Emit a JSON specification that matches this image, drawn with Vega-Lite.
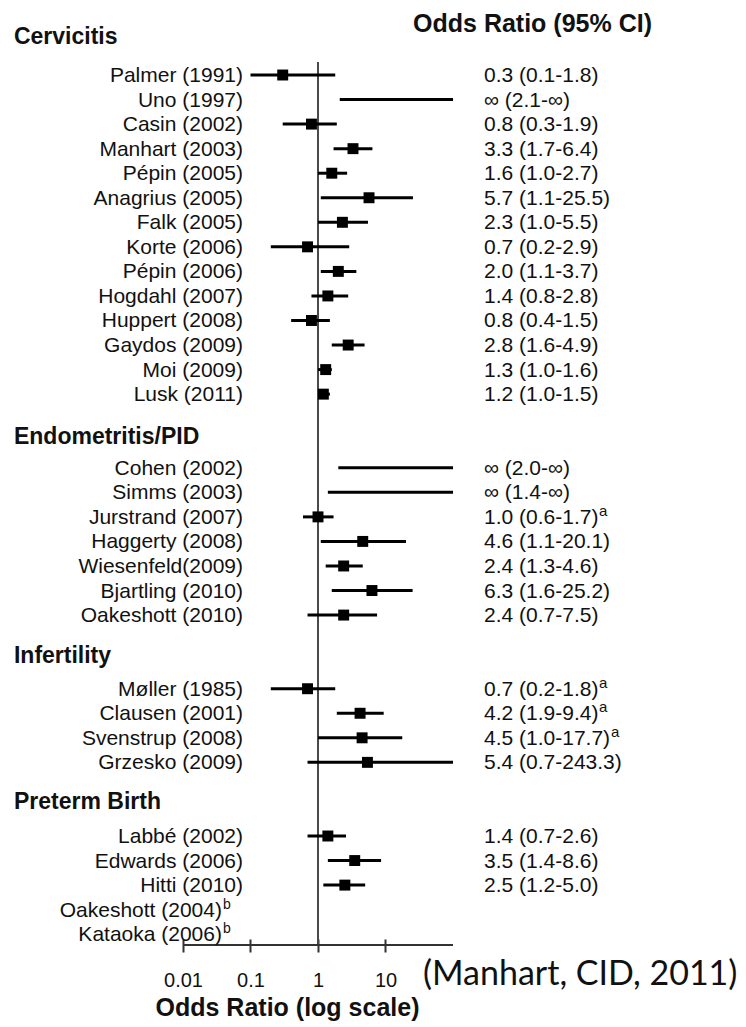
{
  "$schema": "https://vega.github.io/schema/vega-lite/v6.json",
  "autosize": "none",
  "width": 270,
  "height": 883,
  "padding": {"left": 183, "top": 62, "right": 293, "bottom": 82},
  "background": "white",
  "config": {"view": {"stroke": null}, "font": "Liberation Sans"},
  "datasets": {
    "studies": [
      {"group": "Cervicitis", "study": "Palmer (1991)", "row": 0, "or": 0.3, "lo": 0.1, "hi": 1.8, "ci": "0.3 (0.1-1.8)", "sup": ""},
      {"group": "Cervicitis", "study": "Uno (1997)", "row": 1, "or": null, "lo": 2.1, "hi": 1000, "ci": "∞ (2.1-∞)", "sup": ""},
      {"group": "Cervicitis", "study": "Casin (2002)", "row": 2, "or": 0.8, "lo": 0.3, "hi": 1.9, "ci": "0.8 (0.3-1.9)", "sup": ""},
      {"group": "Cervicitis", "study": "Manhart (2003)", "row": 3, "or": 3.3, "lo": 1.7, "hi": 6.4, "ci": "3.3 (1.7-6.4)", "sup": ""},
      {"group": "Cervicitis", "study": "Pépin (2005)", "row": 4, "or": 1.6, "lo": 1.0, "hi": 2.7, "ci": "1.6 (1.0-2.7)", "sup": ""},
      {"group": "Cervicitis", "study": "Anagrius (2005)", "row": 5, "or": 5.7, "lo": 1.1, "hi": 25.5, "ci": "5.7 (1.1-25.5)", "sup": ""},
      {"group": "Cervicitis", "study": "Falk (2005)", "row": 6, "or": 2.3, "lo": 1.0, "hi": 5.5, "ci": "2.3 (1.0-5.5)", "sup": ""},
      {"group": "Cervicitis", "study": "Korte (2006)", "row": 7, "or": 0.7, "lo": 0.2, "hi": 2.9, "ci": "0.7 (0.2-2.9)", "sup": ""},
      {"group": "Cervicitis", "study": "Pépin (2006)", "row": 8, "or": 2.0, "lo": 1.1, "hi": 3.7, "ci": "2.0 (1.1-3.7)", "sup": ""},
      {"group": "Cervicitis", "study": "Hogdahl (2007)", "row": 9, "or": 1.4, "lo": 0.8, "hi": 2.8, "ci": "1.4 (0.8-2.8)", "sup": ""},
      {"group": "Cervicitis", "study": "Huppert (2008)", "row": 10, "or": 0.8, "lo": 0.4, "hi": 1.5, "ci": "0.8 (0.4-1.5)", "sup": ""},
      {"group": "Cervicitis", "study": "Gaydos (2009)", "row": 11, "or": 2.8, "lo": 1.6, "hi": 4.9, "ci": "2.8 (1.6-4.9)", "sup": ""},
      {"group": "Cervicitis", "study": "Moi (2009)", "row": 12, "or": 1.3, "lo": 1.0, "hi": 1.6, "ci": "1.3 (1.0-1.6)", "sup": ""},
      {"group": "Cervicitis", "study": "Lusk (2011)", "row": 13, "or": 1.2, "lo": 1.0, "hi": 1.5, "ci": "1.2 (1.0-1.5)", "sup": ""},
      {"group": "Endometritis/PID", "study": "Cohen (2002)", "row": 16, "or": null, "lo": 2.0, "hi": 1000, "ci": "∞ (2.0-∞)", "sup": ""},
      {"group": "Endometritis/PID", "study": "Simms (2003)", "row": 17, "or": null, "lo": 1.4, "hi": 1000, "ci": "∞ (1.4-∞)", "sup": ""},
      {"group": "Endometritis/PID", "study": "Jurstrand (2007)", "row": 18, "or": 1.0, "lo": 0.6, "hi": 1.7, "ci": "1.0 (0.6-1.7)", "sup": "a"},
      {"group": "Endometritis/PID", "study": "Haggerty (2008)", "row": 19, "or": 4.6, "lo": 1.1, "hi": 20.1, "ci": "4.6 (1.1-20.1)", "sup": ""},
      {"group": "Endometritis/PID", "study": "Wiesenfeld(2009)", "row": 20, "or": 2.4, "lo": 1.3, "hi": 4.6, "ci": "2.4 (1.3-4.6)", "sup": ""},
      {"group": "Endometritis/PID", "study": "Bjartling (2010)", "row": 21, "or": 6.3, "lo": 1.6, "hi": 25.2, "ci": "6.3 (1.6-25.2)", "sup": ""},
      {"group": "Endometritis/PID", "study": "Oakeshott (2010)", "row": 22, "or": 2.4, "lo": 0.7, "hi": 7.5, "ci": "2.4 (0.7-7.5)", "sup": ""},
      {"group": "Infertility", "study": "Møller (1985)", "row": 25, "or": 0.7, "lo": 0.2, "hi": 1.8, "ci": "0.7 (0.2-1.8)", "sup": "a"},
      {"group": "Infertility", "study": "Clausen (2001)", "row": 26, "or": 4.2, "lo": 1.9, "hi": 9.4, "ci": "4.2 (1.9-9.4)", "sup": "a"},
      {"group": "Infertility", "study": "Svenstrup (2008)", "row": 27, "or": 4.5, "lo": 1.0, "hi": 17.7, "ci": "4.5 (1.0-17.7)", "sup": "a"},
      {"group": "Infertility", "study": "Grzesko (2009)", "row": 28, "or": 5.4, "lo": 0.7, "hi": 243.3, "ci": "5.4 (0.7-243.3)", "sup": ""},
      {"group": "Preterm Birth", "study": "Labbé (2002)", "row": 31, "or": 1.4, "lo": 0.7, "hi": 2.6, "ci": "1.4 (0.7-2.6)", "sup": ""},
      {"group": "Preterm Birth", "study": "Edwards (2006)", "row": 32, "or": 3.5, "lo": 1.4, "hi": 8.6, "ci": "3.5 (1.4-8.6)", "sup": ""},
      {"group": "Preterm Birth", "study": "Hitti (2010)", "row": 33, "or": 2.5, "lo": 1.2, "hi": 5.0, "ci": "2.5 (1.2-5.0)", "sup": ""},
      {"group": "Preterm Birth", "study": "Oakeshott (2004)", "row": 34, "or": null, "lo": null, "hi": null, "ci": "", "sup": "b"},
      {"group": "Preterm Birth", "study": "Kataoka (2006)", "row": 35, "or": null, "lo": null, "hi": null, "ci": "", "sup": "b"}
    ],
    "headers": [
      {"name": "Cervicitis", "row": -1.55},
      {"name": "Endometritis/PID", "row": 14.75},
      {"name": "Infertility", "row": 23.65},
      {"name": "Preterm Birth", "row": 29.6}
    ]
  },
  "encoding": {
    "y": {"field": "row", "type": "quantitative", "scale": {"domain": [-0.53, 35.44], "reverse": true, "nice": false, "zero": false}, "axis": null}
  },
  "layer": [
    {
      "data": {"values": [{"v": 1}]},
      "mark": {"type": "rule", "color": "#4a4a4a", "strokeWidth": 2},
      "encoding": {
        "x": {"field": "v", "type": "quantitative", "scale": {"type": "log", "domain": [0.01, 100], "nice": false},
          "axis": {"values": [0.01, 0.1, 1, 10], "format": "~g", "offset": -6, "domain": false, "grid": false,
            "tickSize": 13, "tickWidth": 2, "tickColor": "#333333", "labelFlush": false, "labelOverlap": false,
            "labelFontSize": 20, "labelFont": "Liberation Sans", "labelColor": "#111111", "labelPadding": 18,
            "title": "Odds Ratio (log scale)", "titleFont": "Liberation Sans", "titleFontSize": 25, "titleFontWeight": "bold",
            "titleColor": "#111111", "titleX": 104, "titleY": 68, "titleAlign": "center", "titleBaseline": "middle"}},
        "y": {"value": 0},
        "y2": {"value": 883}
      }
    },
    {
      "data": {"values": [{"a": 0.01, "b": 100, "r": 35.44}]},
      "mark": {"type": "rule", "color": "#333333", "strokeWidth": 2},
      "encoding": {
        "x": {"field": "a", "type": "quantitative"},
        "x2": {"field": "b"},
        "y": {"field": "r", "type": "quantitative"}
      }
    },
    {
      "data": {"name": "studies"},
      "transform": [{"filter": "datum.lo != null"}],
      "mark": {"type": "rule", "color": "#000000", "strokeWidth": 3, "clip": true},
      "encoding": {
        "x": {"field": "lo", "type": "quantitative"},
        "x2": {"field": "hi"}
      }
    },
    {
      "data": {"name": "studies"},
      "transform": [{"filter": "datum.or != null"}],
      "mark": {"type": "point", "shape": "square", "filled": true, "color": "#000000", "size": 120, "opacity": 1},
      "encoding": {
        "x": {"field": "or", "type": "quantitative"}
      }
    },
    {
      "data": {"name": "studies"},
      "transform": [{"filter": "datum.sup != 'b'"}],
      "mark": {"type": "text", "align": "right", "baseline": "middle", "fontSize": 21, "font": "Liberation Sans", "color": "#111111", "dy": 1},
      "encoding": {
        "x": {"datum": 0.0774},
        "text": {"field": "study"}
      }
    },
    {
      "data": {"name": "studies"},
      "transform": [{"filter": "datum.sup == 'b'"}],
      "mark": {"type": "text", "align": "right", "baseline": "middle", "fontSize": 21, "font": "Liberation Sans", "color": "#111111", "dy": 1},
      "encoding": {
        "x": {"datum": 0.0378},
        "text": {"field": "study"}
      }
    },
    {
      "data": {"name": "studies"},
      "transform": [{"filter": "datum.sup == 'b'"}],
      "mark": {"type": "text", "align": "left", "baseline": "middle", "fontSize": 14, "font": "Liberation Sans", "color": "#111111", "dx": 1, "dy": -5},
      "encoding": {
        "x": {"datum": 0.0378},
        "text": {"field": "sup"}
      }
    },
    {
      "data": {"name": "studies"},
      "transform": [{"filter": "datum.ci != ''"}],
      "mark": {"type": "text", "align": "left", "baseline": "middle", "fontSize": 21, "font": "Liberation Sans", "color": "#111111", "dy": 1},
      "encoding": {
        "x": {"datum": 288},
        "text": {"field": "ci"}
      }
    },
    {
      "data": {"name": "studies"},
      "transform": [{"filter": "datum.sup == 'a' && length(datum.ci) == 13"}],
      "mark": {"type": "text", "align": "left", "baseline": "middle", "fontSize": 15, "font": "Liberation Sans", "color": "#111111", "dx": 115, "dy": -6},
      "encoding": {
        "x": {"datum": 288},
        "text": {"field": "sup"}
      }
    },
    {
      "data": {"name": "studies"},
      "transform": [{"filter": "datum.sup == 'a' && length(datum.ci) == 14"}],
      "mark": {"type": "text", "align": "left", "baseline": "middle", "fontSize": 15, "font": "Liberation Sans", "color": "#111111", "dx": 127, "dy": -6},
      "encoding": {
        "x": {"datum": 288},
        "text": {"field": "sup"}
      }
    },
    {
      "data": {"name": "headers"},
      "mark": {"type": "text", "align": "left", "baseline": "middle", "fontSize": 23, "fontWeight": "bold", "font": "Liberation Sans", "color": "#111111"},
      "encoding": {
        "x": {"datum": 0.0000313},
        "text": {"field": "name"}
      }
    },
    {
      "data": {"values": [{"t": "Odds Ratio (95% CI)", "r": -2.08}]},
      "mark": {"type": "text", "align": "left", "baseline": "middle", "fontSize": 25, "fontWeight": "bold", "font": "Liberation Sans", "color": "#111111"},
      "encoding": {
        "x": {"datum": 25.6},
        "y": {"field": "r", "type": "quantitative"},
        "text": {"field": "t"}
      }
    },
    {
      "data": {"values": [{"t": "(Manhart, CID, 2011)", "r": 36.66}]},
      "mark": {"type": "text", "align": "left", "baseline": "middle", "fontSize": 34, "font": "Lato", "color": "#111111"},
      "encoding": {
        "x": {"datum": 35.9},
        "y": {"field": "r", "type": "quantitative"},
        "text": {"field": "t"}
      }
    }
  ]
}
